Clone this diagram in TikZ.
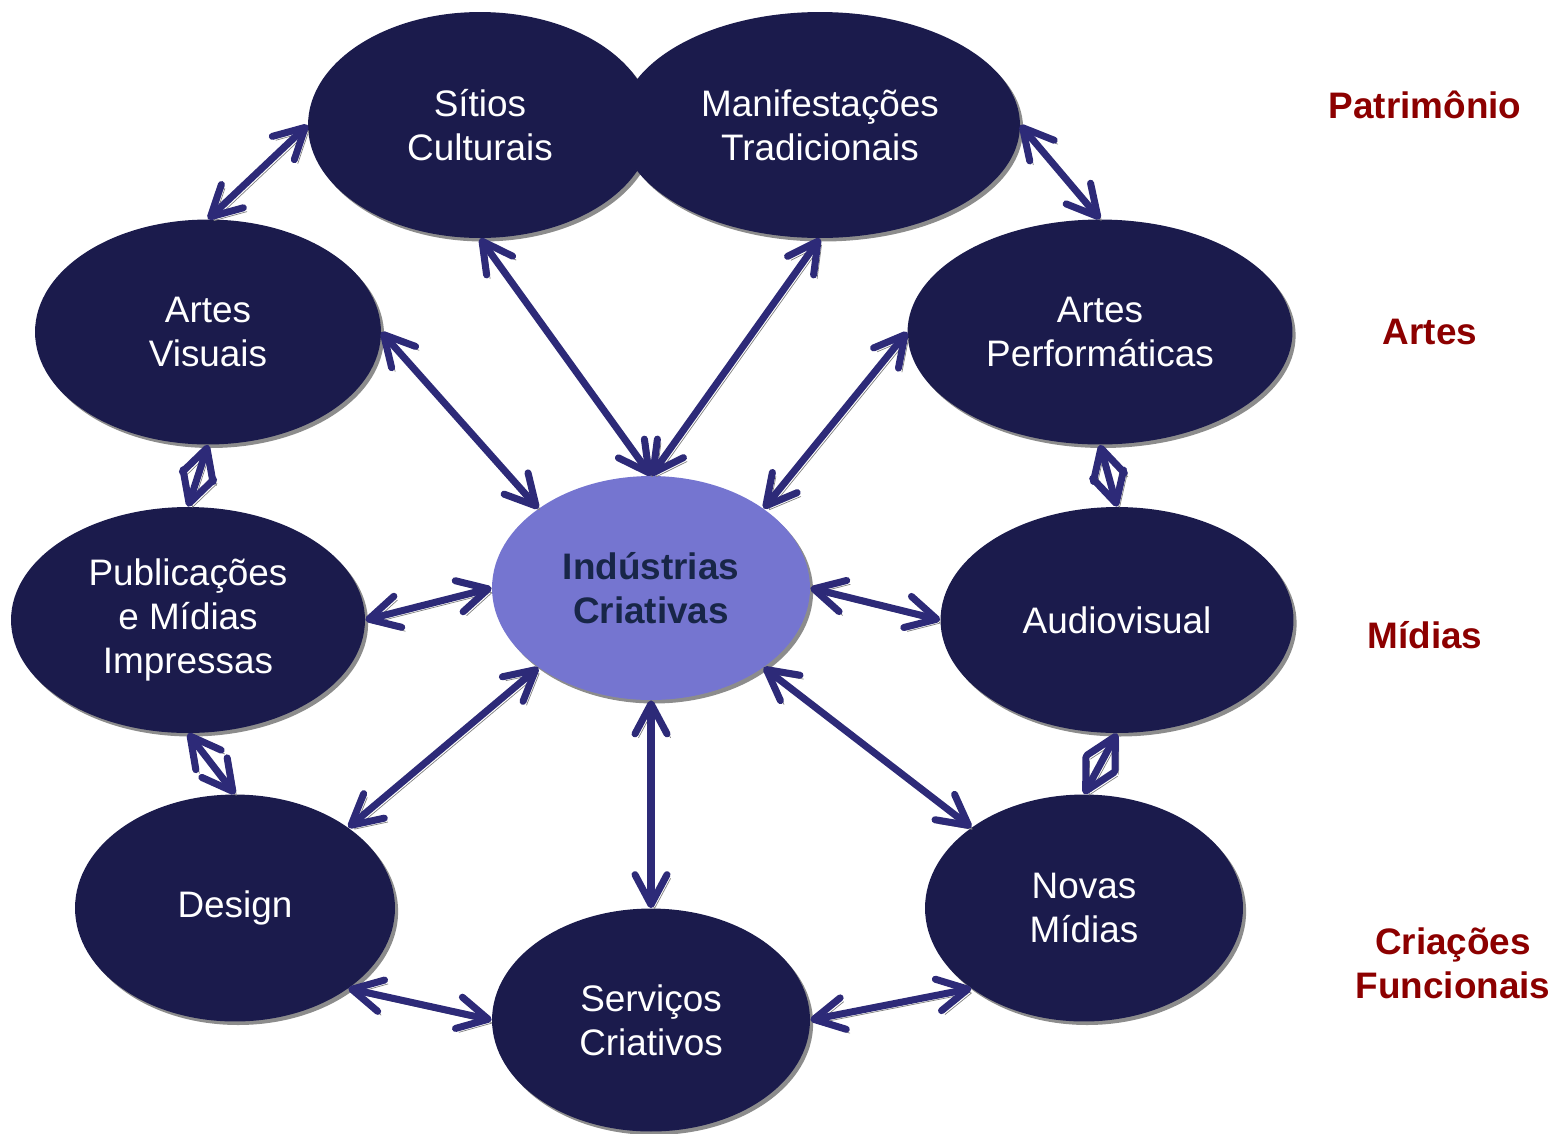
\documentclass[tikz,border=0pt]{standalone}
\usepackage{fontspec}
\setmainfont{Liberation Sans}
\usetikzlibrary{arrows.meta,shapes.geometric,shadows}
\definecolor{azulescuro}{RGB}{27,27,76}
\definecolor{lilas}{RGB}{117,117,208}
\definecolor{seta}{RGB}{45,42,120}
\definecolor{textoazul}{RGB}{24,38,72}
\definecolor{vinho}{RGB}{140,0,0}
\tikzset{
  setor/.style={ellipse, fill=azulescuro, text=white, align=center, inner sep=0pt,
    font=\fontsize{21}{25}\selectfont,
    drop shadow={shadow xshift=1.8pt, shadow yshift=-2pt, fill=gray, opacity=0.9}},
  elo/.style={draw=seta, line width=4pt,
    {Straight Barb[length=6mm,width=6.4mm,round]}-{Straight Barb[length=6mm,width=6.4mm,round]},
    preaction={draw=gray, transform canvas={xshift=2pt,yshift=-2.2pt}}},
  grupo/.style={text=vinho, font=\bfseries\fontsize{21}{25}\selectfont, align=center}
}
\begin{document}
\begin{tikzpicture}[line cap=round,line join=round,x=0.02cm,y=-0.02cm]
	\useasboundingbox (0,0) rectangle (1564,1133);
	\node[setor, minimum width=6.88cm, minimum height=4.52cm] (sitios) at (480,125) {S\'itios\\Culturais};
	\node[setor, minimum width=8cm, minimum height=4.52cm] (manif) at (820,125) {Manifesta\c{c}\~oes\\Tradicionais};
	\node[setor, minimum width=6.92cm, minimum height=4.5cm] (visuais) at (208,332) {Artes\\Visuais};
	\node[setor, minimum width=7.7cm, minimum height=4.5cm] (perf) at (1100,332) {Artes\\Perform\'aticas};
	\node[setor, minimum width=7.08cm, minimum height=4.52cm] (public) at (188,620) {Publica\c{c}\~oes\\e M\'idias\\Impressas};
	\node[setor, fill=lilas, text=textoazul, font=\bfseries\fontsize{21}{25}\selectfont, minimum width=6.36cm, minimum height=4.48cm] (ind) at (651,588) {Ind\'ustrias\\Criativas};
	\node[setor, minimum width=7.06cm, minimum height=4.52cm] (audio) at (1117,620) {Audiovisual};
	\node[setor, minimum width=6.4cm, minimum height=4.54cm] (design) at (235,908) {Design};
	\node[setor, minimum width=6.36cm, minimum height=4.46cm] (servicos) at (651,1020) {Servi\c{c}os\\Criativos};
	\node[setor, minimum width=6.36cm, minimum height=4.54cm] (novas) at (1084,908) {Novas\\M\'idias};

	\draw[elo] (sitios.west) -- (visuais.north);
	\draw[elo] (manif.east) -- (perf.north);
	\draw[elo] (sitios.south) -- (ind.north);
	\draw[elo] (manif.south) -- (ind.north);
	\draw[elo] (visuais.east) -- (ind.north west);
	\draw[elo] (perf.west) -- (ind.north east);
	\draw[elo] (visuais.south) -- (public.north);
	\draw[elo] (perf.south) -- (audio.north);
	\draw[elo] (public.east) -- (ind.west);
	\draw[elo] (ind.east) -- (audio.west);
	\draw[elo] (public.south) -- (design.north);
	\draw[elo] (audio.south) -- (novas.north);
	\draw[elo] (ind.south west) -- (design.north east);
	\draw[elo] (ind.south east) -- (novas.north west);
	\draw[elo] (ind.south) -- (servicos.north);
	\draw[elo] (design.south east) -- (servicos.west);
	\draw[elo] (servicos.east) -- (novas.south west);

	\node[grupo] (patrimonio) at (1425,105) {Patrim\^onio};
	\node[grupo] (artes) at (1430,332) {Artes};
	\node[grupo] (midias) at (1425,635) {M\'idias};
	\node[grupo] (criacoes) at (1453,963) {Cria\c{c}\~oes\\Funcionais};
\end{tikzpicture}
\end{document}
